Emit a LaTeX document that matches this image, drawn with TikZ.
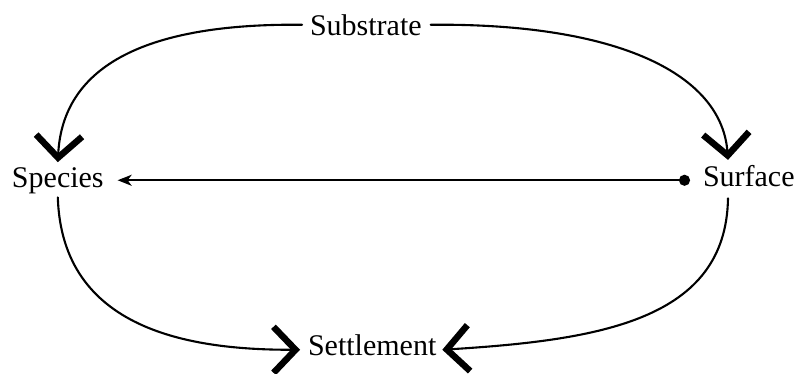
\documentclass[tikz,border=0pt]{standalone}
\usepackage{fontspec}
\setmainfont{Liberation Serif}
\usetikzlibrary{arrows.meta}
\begin{document}
\begin{tikzpicture}[x=1pt,y=-1pt,
  lbl/.style={anchor=base west,inner sep=0pt,outer sep=0pt,font=\fontsize{30}{36}\selectfont},
  conn/.style={line width=2.1pt,line cap=round},
  chev/.style={conn,-{Straight Barb[length=22pt,width=46pt,line width=6.5pt 0]}}]
\useasboundingbox (0,0) rectangle (799,373);
\node[lbl] (substrate) at (310,35) {Substrate};
\node[lbl] (species) at (12,187) {Species};
\node[lbl] (surface) at (703,186) {Surface};
\node[lbl] (settlement) at (308,355) {Settlement};
% top arcs
\draw[chev] ([xshift=-8pt]substrate.west) .. controls (130,23) and (62,75) .. ([yshift=5pt]species.north);
\draw[chev] ([xshift=9pt]substrate.east) .. controls (620,23) and (722,75) .. ([xshift=25pt,yshift=5pt]surface.north west);
% bottom arcs
\draw[chev] ([yshift=-4pt]species.south) .. controls (62,330) and (190,350) .. ([xshift=-8pt,yshift=-5pt]settlement.west);
\draw[chev] ([xshift=25pt,yshift=-12pt]surface.south west) .. controls (726,320) and (600,340) .. ([xshift=6pt,yshift=-5pt]settlement.east);
% horizontal connector
\draw[conn,{Stealth[length=14pt,width=11pt,inset=4pt]}-{Circle[length=11pt]},shorten <=14pt,shorten >=13pt] (species.east) -- (species.east -| surface.west);
\end{tikzpicture}
\end{document}
